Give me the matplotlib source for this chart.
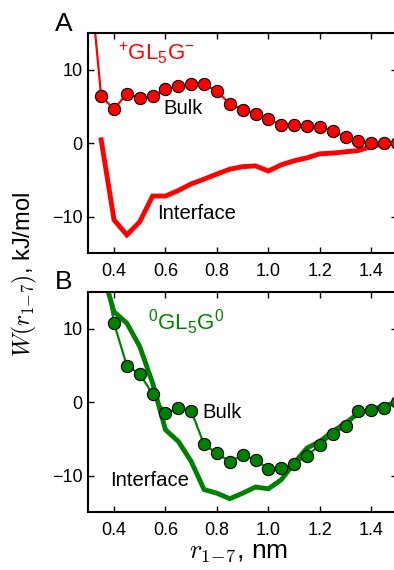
import matplotlib
matplotlib.use("Agg")
import matplotlib.pyplot as plt
import numpy as np

plt.rcParams['font.family'] = ['Liberation Sans', 'DejaVu Sans']
plt.rcParams['mathtext.fontset'] = 'cm'
plt.rcParams['mathtext.rm'] = 'Liberation Sans'
plt.rcParams['mathtext.it'] = 'Liberation Sans:italic'
plt.rcParams['mathtext.bf'] = 'Liberation Sans:bold'

# ---- data ----
r = [0.30, 0.35, 0.40, 0.45, 0.50, 0.55, 0.60, 0.65, 0.70, 0.75, 0.80, 0.85,
     0.90, 0.95, 1.00, 1.05, 1.10, 1.15, 1.20, 1.25, 1.30, 1.35, 1.40, 1.45, 1.50]

# Panel A: +GL5G-
a_bulk = [25.0, 6.36, 4.64, 6.73, 6.14, 6.36, 7.36, 7.73, 8.05, 8.05, 7.05, 5.36,
          4.55, 4.0, 3.27, 2.45, 2.45, 2.32, 2.18, 1.68, 0.82, 0.32, 0.0, 0.0, 0.0]
a_iface_r = r[1:]
a_iface = [0.45, -10.45, -12.5, -10.7, -7.2, -7.2, -6.45, -5.55, -4.9, -4.2, -3.55,
           -3.2, -3.1, -3.8, -2.95, -2.4, -2.0, -1.45, -1.36, -1.18, -1.0, -0.45, -0.1, 0.0]

# Panel B: 0GL5G0
b_bulk_r = r[1:]
b_bulk = [20.5, 10.75, 4.94, 3.85, 1.09, -1.5, -0.86, -1.18, -5.76, -6.94, -8.12,
          -7.2, -7.85, -9.1, -9.0, -8.4, -7.3, -5.85, -4.4, -3.3, -1.27, -1.13, -0.82, 0.0]
b_iface_r = r[1:]
b_iface = [18.4, 12.3, 10.75, 7.57, 2.6, -3.76, -5.35, -8.07, -11.9, -12.4, -13.15,
           -12.4, -11.56, -11.8, -10.57, -8.3, -6.26, -5.35, -4.0, -2.86, -1.5, -1.04, -0.5, 0.0]

xticks = [0.4, 0.6, 0.8, 1.0, 1.2, 1.4]
xticklabels = ["0.4", "0.6", "0.8", "1.0", "1.2", "1.4"]
yticks = [-10, 0, 10]
yticklabels = ["\u221210", "0", "10"]

red = '#ff0000'
green = '#008000'

fig = plt.figure(figsize=(3.94, 5.70), dpi=100)
W, H = 394.0, 570.0
left = 88.3 / W
width = (397.0 - 88.3) / W
axA = fig.add_axes([left, 1 - 253.3 / H, width, (253.3 - 33) / H])
axB = fig.add_axes([left, 1 - 512.3 / H, width, (512.3 - 292) / H])

def style(ax):
    ax.set_xlim(0.3, 1.5)
    ax.set_ylim(-15, 15)
    ax.set_xticks(xticks)
    ax.set_xticklabels(xticklabels)
    ax.set_yticks(yticks)
    ax.set_yticklabels(yticklabels)
    ax.tick_params(direction='in', top=True, right=True, length=4.5, width=1.0,
                   labelsize=13)
    ax.tick_params(axis='x', pad=7)
    ax.tick_params(axis='y', pad=4)
    for s in ax.spines.values():
        s.set_linewidth(1.5)

# Panel A
axA.plot(a_iface_r, a_iface, color=red, lw=3.5, solid_joinstyle='miter')
axA.plot(r, a_bulk, color=red, lw=1.6, marker='o', ms=8.8, mfc=red, mec='black',
         mew=0.8, markevery=list(range(1, len(r))))
style(axA)
axA.text(118 / W, 1 - 53 / H, r'$^{+}$GL$_{5}$G$^{-}$', transform=fig.transFigure,
         color=red, fontsize=16, va='center', ha='left', math_fontfamily='custom')
axA.text(163 / W, 1 - 108 / H, 'Bulk', transform=fig.transFigure, fontsize=14.6,
         va='center', ha='left')
axA.text(157 / W, 1 - 213 / H, 'Interface', transform=fig.transFigure, fontsize=14.6,
         va='center', ha='left')
fig.text(64 / W, 1 - 24 / H, 'A', fontsize=19, ha='center', va='center')

# Panel B
axB.plot(b_iface_r, b_iface, color=green, lw=3.5, solid_joinstyle='miter')
axB.plot(b_bulk_r, b_bulk, color=green, lw=1.6, marker='o', ms=8.8, mfc=green,
         mec='black', mew=0.8, markevery=list(range(1, len(b_bulk_r))))
style(axB)
axB.text(148 / W, 1 - 322 / H, r'$^{0}$GL$_{5}$G$^{0}$', transform=fig.transFigure,
         color=green, fontsize=16, va='center', ha='left', math_fontfamily='custom')
axB.text(202 / W, 1 - 412 / H, 'Bulk', transform=fig.transFigure, fontsize=14.6,
         va='center', ha='left')
axB.text(110 / W, 1 - 480 / H, 'Interface', transform=fig.transFigure, fontsize=14.6,
         va='center', ha='left')
fig.text(64 / W, 1 - 282 / H, 'B', fontsize=19, ha='center', va='center')

fig.text(24 / W, 1 - 275 / H, r'$W(r_{1\!-\!7})$, kJ/mol', rotation=90, fontsize=17,
         ha='center', va='center')
fig.text(239 / W, 1 - 552 / H, r'$r_{1\!-\!7}$, nm', fontsize=19, ha='center',
         va='center')

fig.savefig('out.png', dpi=100)
